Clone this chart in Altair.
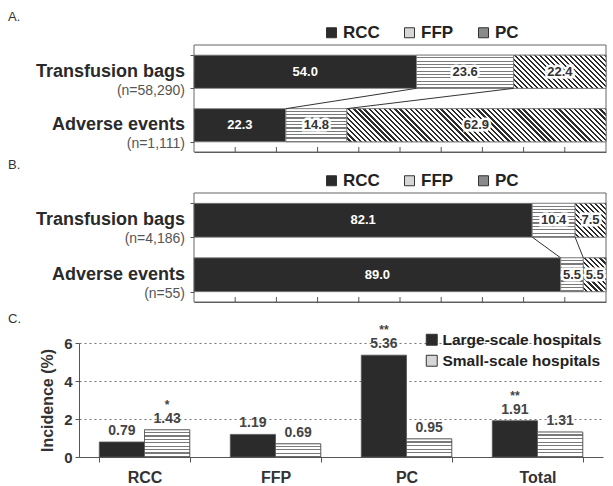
import altair as alt
import pandas as pd

FONT = "Liberation Sans"

# ---------------- data ----------------
products = ["RCC", "FFP", "PC"]
stack_categories = ["Transfusion bags", "Adverse events"]

a_counts = ["(n=58,290)", "(n=1,111)"]
a_bags = [54.0, 23.6, 22.4]
a_events = [22.3, 14.8, 62.9]

b_counts = ["(n=4,186)", "(n=55)"]
b_bags = [82.1, 10.4, 7.5]
b_events = [89.0, 5.5, 5.5]

pct_ticks = [0, 10, 20, 30, 40, 50, 60, 70, 80, 90, 100]

c_categories = ["RCC", "FFP", "PC", "Total"]
hospital_groups = ["Large-scale hospitals", "Small-scale hospitals"]
c_large = [0.79, 1.19, 5.36, 1.91]
c_small = [1.43, 0.69, 0.95, 1.31]
c_large_sig = ["", "", "**", "**"]
c_small_sig = ["*", "", "", ""]
c_ticks = [0, 2, 4, 6]

panel_letters = ["A.", "B.", "C."]

# ---------------- style / layout ----------------
PRODUCT_COLORS = ["#2b2b2b", "#d6d6d6", "#8a8a8a"]
GROUP_COLORS = ["#2b2b2b", "#d6d6d6"]
DOT_DARK = "#7a7a7a"
W = 527
XL, XR = 115, 527
PI, PO = 0.38, 0.19
HC = 114


def hstripes(n, dark, light, frac):
    stops = []
    for k in range(n):
        a = k / n
        m = (k + 1 - frac) / n
        b = (k + 1) / n
        stops += [{"offset": a, "color": light}, {"offset": m, "color": light},
                  {"offset": m, "color": dark}, {"offset": b, "color": dark}]
    return {"gradient": "linear", "x1": 0, "y1": 0, "x2": 0, "y2": 1,
            "stops": stops}


def diag_stripes(w, h, period, dark, light, frac):
    r = h / w
    s = (1 + r) / (1 + r * r)
    n = max(1, round((w + h) / (2 ** 0.5 * period)))
    stops = []
    for k in range(n):
        a = k / n
        m = (k + 1 - frac) / n
        b = (k + 1) / n
        stops += [{"offset": a, "color": light}, {"offset": m, "color": light},
                  {"offset": m, "color": dark}, {"offset": b, "color": dark}]
    return {"gradient": "linear", "x1": 0, "y1": 1, "x2": s, "y2": 1 - r * s,
            "stops": stops}


def letter_layer(letter, dy):
    return alt.Chart(pd.DataFrame({"t": [letter]})).mark_text(
        align="left", baseline="middle", fontSize=13, color="#333"
    ).encode(x=alt.value(-71), y=alt.value(dy), text="t:N")


def stack_panel(letter, counts, bags, events, H):
    rows = []
    for cat, vals in zip(stack_categories, [bags, events]):
        s = 0.0
        for p, v in zip(products, vals):
            rows.append(dict(category=cat, product=p, value=v, start=s,
                             end=s + v, mid=s + v / 2, label=f"{v:.1f}"))
            s += v
    df = pd.DataFrame(rows)

    ysc = alt.Scale(domain=stack_categories, paddingInner=PI, paddingOuter=PO)
    xsc = alt.Scale(domain=[0, 100], range=[XL, XR])
    step = H / (2 - PI + 2 * PO)
    bw = step * (1 - PI)

    base = alt.Chart(df)
    bars = base.mark_bar(stroke="#777", strokeWidth=0.8).encode(
        x=alt.X("start:Q", scale=xsc,
                axis=alt.Axis(values=pct_ticks, labels=False, title=None,
                              ticks=False, domainColor="#555", grid=False)),
        x2="end:Q",
        y=alt.Y("category:N", scale=ysc,
                axis=alt.Axis(labels=False, title=None, domain=False,
                              ticks=True, tickBand="extent", tickSize=4,
                              tickColor="#555", offset=-XL, grid=False)),
        color=alt.Color("product:N",
                        scale=alt.Scale(domain=products, range=PRODUCT_COLORS),
                        legend=alt.Legend(orient="none", legendX=244, legendY=-21,
                                          direction="horizontal", title=None,
                                          symbolType="square", symbolSize=100,
                                          symbolStrokeColor="#333",
                                          symbolStrokeWidth=1,
                                          labelFontSize=17, labelFontWeight="bold",
                                          labelColor="#222", labelFont=FONT,
                                          columnPadding=21, labelOffset=3,
                                          padding=0, labelLimit=0)),
    )

    layers = [bars]
    # dotted rows for FFP
    ffp = base.transform_filter("datum.product == 'FFP'").mark_bar(
        fill=hstripes(round(bw / 3.4), DOT_DARK, "#ffffff", 0.35),
        stroke="#777", strokeWidth=0.8
    ).encode(x=alt.X("start:Q", scale=xsc), x2="end:Q",
             y=alt.Y("category:N", scale=ysc))
    layers.append(ffp)
    # diagonal hatch for PC, one layer per bar
    for cat, vals in zip(stack_categories, [bags, events]):
        wpx = vals[2] / 100 * (XR - XL)
        pc = base.transform_filter(
            f"datum.product == 'PC' && datum.category == '{cat}'"
        ).mark_bar(fill=diag_stripes(wpx, bw, 3.6, "#2b2b2b", "#ffffff", 0.45),
                   stroke="#777", strokeWidth=0.8).encode(
            x=alt.X("start:Q", scale=xsc), x2="end:Q",
            y=alt.Y("category:N", scale=ysc))
        layers.append(pc)

    halo = base.transform_filter("datum.product != 'RCC'").mark_text(
        fontSize=13, fontWeight="bold", stroke="white", strokeWidth=5,
        color="white", baseline="middle"
    ).encode(x=alt.X("mid:Q", scale=xsc), y=alt.Y("category:N", scale=ysc),
             text="label:N")
    vals_t = base.mark_text(fontSize=13, fontWeight="bold", baseline="middle").encode(
        x=alt.X("mid:Q", scale=xsc), y=alt.Y("category:N", scale=ysc),
        text="label:N",
        color=alt.condition("datum.product == 'RCC'", alt.value("white"),
                            alt.value("#333")),
    )

    # connectors between stacked boundaries
    y_top_bottom = PO * step + bw
    y_bot_top = PO * step + step
    conn = []
    st, se = 0.0, 0.0
    for i in range(2):
        st += bags[i]
        se += events[i]
        conn.append(dict(xt=st, xb=se))
    conn_df = pd.DataFrame(conn)
    connectors = alt.Chart(conn_df).mark_rule(color="#333", strokeWidth=1).encode(
        x=alt.X("xt:Q", scale=xsc), x2="xb:Q",
        y=alt.value(y_top_bottom), y2=alt.value(y_bot_top))

    # inward ticks on the bottom axis
    tick_df = pd.DataFrame({"p": pct_ticks[1:-1]})
    ticks = alt.Chart(tick_df).mark_rule(color="#555", strokeWidth=1).encode(
        x=alt.X("p:Q", scale=xsc), y=alt.value(H - 5), y2=alt.value(H))

    lab_df = pd.DataFrame({"category": stack_categories, "count": counts})
    names = alt.Chart(lab_df).mark_text(
        align="right", baseline="middle", fontSize=18, fontWeight="bold",
        color="#2a2a2a"
    ).encode(x=alt.value(XL - 9), y=alt.Y("category:N", scale=ysc), text="category:N")
    cnts = alt.Chart(lab_df).mark_text(
        align="right", baseline="middle", fontSize=14, color="#555", dy=19
    ).encode(x=alt.value(XL - 9), y=alt.Y("category:N", scale=ysc), text="count:N")

    frame = alt.Chart(pd.DataFrame({"t": [letter]})).mark_rect(
        fillOpacity=0, stroke="#666", strokeWidth=1
    ).encode(x=alt.value(XL), x2=alt.value(XR), y=alt.value(0), y2=alt.value(H))

    return alt.layer(frame, *layers, connectors, ticks, halo, vals_t, names, cnts,
                     letter_layer(letter, -28)).properties(width=W, height=H)


panel_a = stack_panel(panel_letters[0], a_counts, a_bags, a_events, 107)
panel_b = stack_panel(panel_letters[1], b_counts, b_bags, b_events, 109)

# ---------------- panel C ----------------
crow = []
for cat, lv, sv, ls, ss in zip(c_categories, c_large, c_small, c_large_sig, c_small_sig):
    crow.append(dict(category=cat, group=hospital_groups[0], value=lv,
                     label=f"{lv:.2f}", sig=ls))
    crow.append(dict(category=cat, group=hospital_groups[1], value=sv,
                     label=f"{sv:.2f}", sig=ss))
cdf = pd.DataFrame(crow)

cx = alt.X("category:N", sort=c_categories,
           scale=alt.Scale(paddingInner=0.31, paddingOuter=0.155),
           axis=alt.Axis(title=None, labelAngle=0, labelFontSize=16,
                         labelFontWeight="bold", labelColor="#333",
                         labelPadding=7, tickBand="extent", tickSize=5,
                         domainColor="#555", tickColor="#555"))
cxo = alt.XOffset("group:N", sort=hospital_groups,
                  scale=alt.Scale(paddingInner=0, paddingOuter=0))
cy = alt.Y("value:Q", scale=alt.Scale(domain=[0, 6]),
           axis=alt.Axis(values=c_ticks, grid=True, gridDash=[2, 3],
                         gridColor="#777", tickSize=4, labelFontSize=15,
                         labelFontWeight="bold", labelColor="#333",
                         labelPadding=3, domainColor="#555", tickColor="#555",
                         title="Incidence (%)", titleFontSize=16,
                         titleFontWeight="bold", titleColor="#333",
                         titlePadding=8))

cbase = alt.Chart(cdf)
cbars = cbase.mark_bar(stroke="#555", strokeWidth=0.8).encode(
    x=cx, xOffset=cxo, y=cy,
    color=alt.Color("group:N",
                    scale=alt.Scale(domain=hospital_groups, range=GROUP_COLORS),
                    legend=alt.Legend(orient="none", legendX=345, legendY=-11,
                                      direction="vertical", title=None,
                                      symbolType="square", symbolSize=120,
                                      symbolStrokeColor="#333",
                                      symbolStrokeWidth=1,
                                      labelFontSize=15.5, labelFontWeight="bold",
                                      labelColor="#222", labelFont=FONT,
                                      rowPadding=4, labelOffset=3, padding=0,
                                      labelLimit=0)),
)
c_layers = [cbars]
for cat, sv in zip(c_categories, c_small):
    hpx = sv * HC / 6
    c_layers.append(
        cbase.transform_filter(
            f"datum.group == '{hospital_groups[1]}' && datum.category == '{cat}'"
        ).mark_bar(fill=hstripes(max(2, round(hpx / 3.6)), DOT_DARK, "#ffffff", 0.35),
                   stroke="#555", strokeWidth=0.8).encode(x=cx, xOffset=cxo, y=cy)
    )

clabels = cbase.mark_text(dy=-11, fontSize=14, fontWeight="bold", color="#444",
                          baseline="middle").encode(
    x=cx, xOffset=cxo, y=cy, text="label:N")
csig = cbase.mark_text(dy=-25, fontSize=12, fontWeight="bold", color="#444",
                       baseline="middle").encode(
    x=cx, xOffset=cxo, y=cy, text="sig:N")

panel_c = alt.layer(*c_layers, clabels, csig,
                    letter_layer(panel_letters[2], -24)).properties(width=524, height=HC)

chart = alt.vconcat(panel_a, panel_b, panel_c, spacing=41, bounds="flush").resolve_scale(
    color="independent").properties(
    padding={"left": 8, "top": 11, "right": 0, "bottom": 0}
).configure(font=FONT).configure_view(stroke=None)

chart.save("out.html", embed_options={"renderer": "svg", "actions": False})
